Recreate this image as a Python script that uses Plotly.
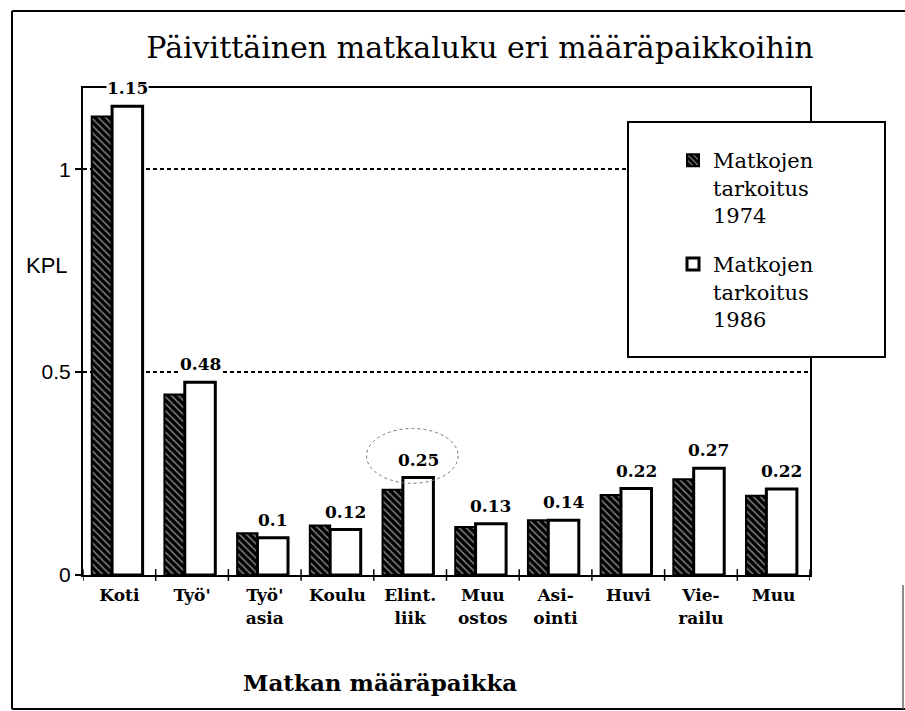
import plotly.graph_objects as go

# ---- data ----
categories = ["Koti", "Työ'", "Työ'<br>asia", "Koulu", "Elint.<br>liik",
              "Muu<br>ostos", "Asi-<br>ointi", "Huvi", "Vie-<br>railu", "Muu"]
values_1974 = [1.13, 0.445, 0.103, 0.122, 0.21, 0.118, 0.135, 0.197, 0.236, 0.195]
values_1986 = [1.155, 0.475, 0.092, 0.112, 0.24, 0.126, 0.135, 0.213, 0.263, 0.212]
labels_1986 = ["1.15", "0.48", "0.1", "0.12", "0.25", "0.13", "0.14", "0.22", "0.27", "0.22"]
series_names = ["Matkojen<br>tarkoitus<br>1974", "Matkojen<br>tarkoitus<br>1986"]
y_ticks = [0, 0.5, 1]
y_ticktext = ["0", "0.5", "1"]
highlight_index = 4

# page geometry (body margin removed in the page, so figure == page)
W, H = 905, 711
PL, PT = 83, 88           # plot area left/top
PRX, PBY = 810, 575       # plot area right/bottom
L, T, R, B = PL, PT, W - PRX, H - PBY
pw, ph = PRX - PL, PBY - PT

def px_x(p):
    return (p - PL) / pw

def px_y(p):
    return (PBY - p) / ph

serif = "DejaVu Serif"
sans = "Liberation Sans"

off74, w74 = -0.38, 0.28
off86, w86 = -0.10, 0.42

fig = go.Figure()
fig.add_trace(go.Bar(
    x=list(range(len(categories))), y=values_1974, name=series_names[0],
    offset=off74, width=w74, legendgroup="a",
    marker=dict(color="black", line=dict(color="black", width=2),
                pattern=dict(shape="\\", bgcolor="black", fgcolor="white",
                             size=5, solidity=0.3)),
))
fig.add_trace(go.Bar(
    x=list(range(len(categories))), y=values_1986, name=series_names[1],
    offset=off86, width=w86, legendgroup="b",
    marker=dict(color="white", line=dict(color="black", width=3)),
))

# value labels above 1986 bars
for i, (v, t) in enumerate(zip(values_1986, labels_1986)):
    fig.add_annotation(x=i + off86 + w86 / 2, y=v, text=t, showarrow=False,
                       xanchor="center", yanchor="bottom", yshift=7,
                       xref="x", yref="y", bgcolor="white", borderpad=0,
                       font=dict(family=serif, size=17, color="black", weight="bold"))

# hand-drawn ellipse around highlighted label
hv = values_1986[highlight_index]
fig.add_shape(type="circle", xref="x", yref="y",
              x0=highlight_index - 0.60, x1=highlight_index + 0.66,
              y0=hv - 0.014, y1=hv + 0.121,
              line=dict(color="#777", width=1, dash="dot"))

# legend box
fig.add_shape(type="rect", xref="paper", yref="paper",
              x0=px_x(628), x1=px_x(885), y0=px_y(357), y1=px_y(122),
              fillcolor="white", line=dict(color="black", width=2), layer="above")

# outer frame
frame = dict(color="black", width=2)
fig.add_shape(type="line", xref="paper", yref="paper",
              x0=px_x(12), x1=px_x(905), y0=px_y(11), y1=px_y(11), line=frame)
fig.add_shape(type="line", xref="paper", yref="paper",
              x0=px_x(12), x1=px_x(12), y0=px_y(11), y1=px_y(709), line=frame)
fig.add_shape(type="line", xref="paper", yref="paper",
              x0=px_x(12), x1=px_x(905), y0=px_y(709), y1=px_y(709), line=frame)
fig.add_shape(type="line", xref="paper", yref="paper",
              x0=px_x(903), x1=px_x(903), y0=px_y(585), y1=px_y(709),
              line=dict(color="#666", width=1.5))

# KPL
fig.add_annotation(x=px_x(47), y=px_y(265), xref="paper", yref="paper",
                   text="KPL", showarrow=False, xanchor="center", yanchor="middle",
                   font=dict(family=sans, size=22, color="black"))
# x title
fig.add_annotation(x=px_x(380), y=px_y(682), xref="paper", yref="paper",
                   text="Matkan määräpaikka", showarrow=False,
                   xanchor="center", yanchor="middle",
                   font=dict(family=serif, size=23, color="black", weight="bold"))

fig.update_layout(
    width=W, height=H,
    margin=dict(l=L, r=R, t=T, b=B, autoexpand=False),
    paper_bgcolor="white", plot_bgcolor="white",
    title=dict(text="Päivittäinen matkaluku eri määräpaikkoihin",
               x=480 / W, y=1 - 47 / H,
               xanchor="center", yanchor="middle",
               font=dict(family=serif, size=30, color="black")),
    barmode="overlay",
    showlegend=True,
    legend=dict(x=px_x(673), y=px_y(140), xanchor="left", yanchor="top",
                bgcolor="rgba(0,0,0,0)", borderwidth=0,
                font=dict(family=serif, size=21, color="black"),
                traceorder="grouped", tracegroupgap=19, valign="top"),
    xaxis=dict(
        type="linear", range=[-0.5, len(categories) - 0.5],
        tickmode="array", tickvals=list(range(len(categories))), ticktext=categories,
        showgrid=False, zeroline=False,
        showline=True, linecolor="black", linewidth=2, mirror=True,
        ticks="", tickfont=dict(family=serif, size=17, color="black", weight="bold"),
        ticklabelstandoff=4,
    ),
    yaxis=dict(
        range=[0, 1.2], tickmode="array", tickvals=y_ticks, ticktext=y_ticktext,
        showgrid=True, gridcolor="black", gridwidth=1.5, griddash="4px,3px",
        zeroline=False,
        showline=True, linecolor="black", linewidth=2, mirror=True,
        ticks="outside", ticklen=6, tickcolor="black", tickwidth=1.5,
        tickfont=dict(family=sans, size=21, color="black"),
    ),
)

# category boundary ticks on x axis
for k in range(len(categories) + 1):
    fig.add_shape(type="line", xref="x", yref="paper",
                  x0=k - 0.5, x1=k - 0.5, y0=-0.012, y1=0.012,
                  line=dict(color="black", width=1.5))

fig.write_html(
    "out.html",
    config={"displayModeBar": False},
    post_script="document.body.style.margin='0';document.body.style.overflow='hidden';",
)
